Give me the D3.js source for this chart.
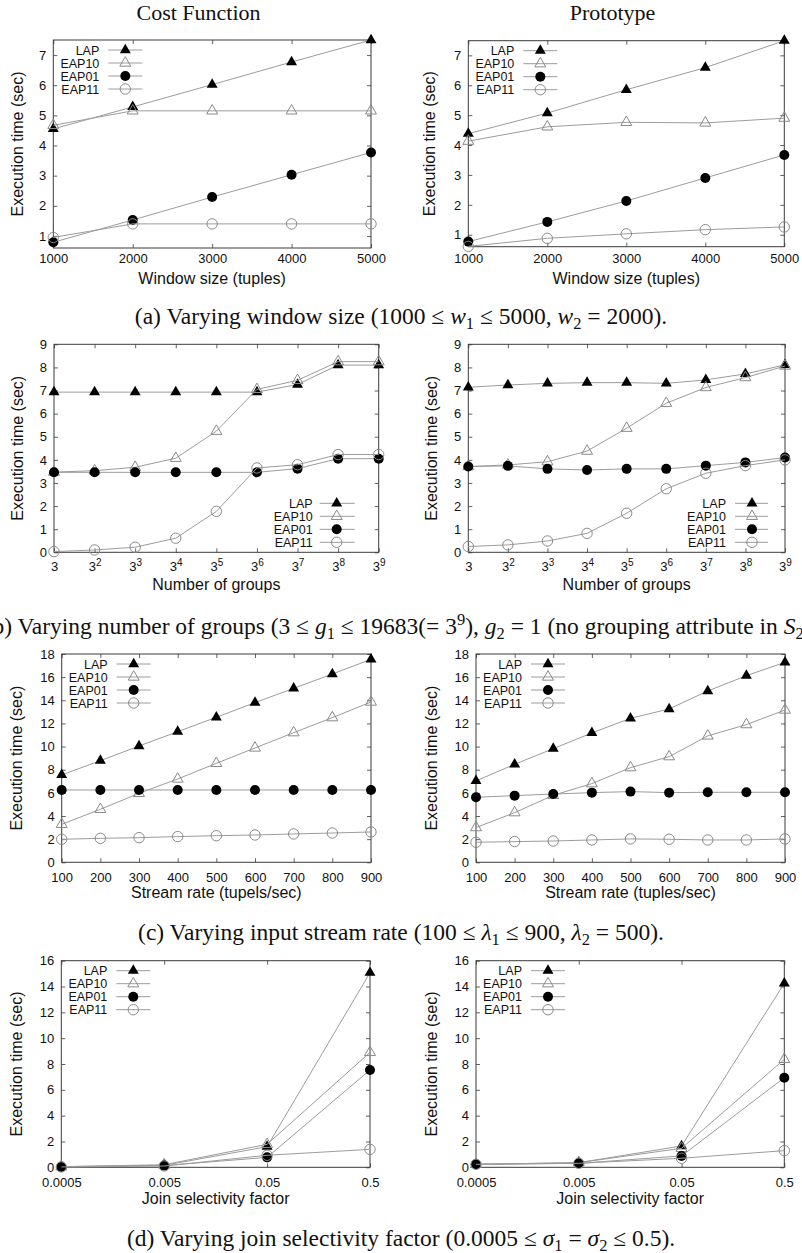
<!DOCTYPE html>
<html>
<head>
<meta charset="utf-8">
<script src="https://cdn.jsdelivr.net/npm/d3@7"></script>
<style>
  body { margin: 0; background: #fff; }
  svg { display: block; }
</style>
</head>
<body>
<svg id="fig" width="802" height="1253"></svg>
<script>
// ---- data -------------------------------------------------------------
const seriesNames = ["LAP", "EAP10", "EAP01", "EAP11"];

const windowSizes   = [1000, 2000, 3000, 4000, 5000];
const groupCounts   = [3, 9, 27, 81, 243, 729, 2187, 6561, 19683];
const groupExponents = [1, 2, 3, 4, 5, 6, 7, 8, 9];
const streamRates   = [100, 200, 300, 400, 500, 600, 700, 800, 900];
const selectivities = [0.0005, 0.005, 0.05, 0.5];
const selectivityLabels = ["0.0005", "0.005", "0.05", "0.5"];

// execution time (sec); rows follow seriesNames
const costWindow = [
  [4.55, 5.28, 6.02, 6.77, 7.50],
  [4.67, 5.15, 5.15, 5.15, 5.15],
  [0.79, 1.53, 2.29, 3.03, 3.77],
  [0.95, 1.40, 1.40, 1.40, 1.40]
];
const protoWindow = [
  [4.38, 5.07, 5.85, 6.59, 7.49],
  [4.13, 4.61, 4.76, 4.74, 4.90],
  [0.77, 1.43, 2.13, 2.90, 3.67],
  [0.61, 0.88, 1.03, 1.17, 1.26]
];
const costGroups = [
  [6.93, 6.93, 6.93, 6.93, 6.93, 6.93, 7.26, 8.10, 8.10],
  [3.47, 3.53, 3.68, 4.07, 5.24, 7.05, 7.44, 8.25, 8.25],
  [3.46, 3.46, 3.46, 3.46, 3.46, 3.46, 3.62, 4.05, 4.05],
  [0.03, 0.10, 0.22, 0.61, 1.77, 3.65, 3.79, 4.23, 4.23]
];
const protoGroups = [
  [7.14, 7.24, 7.31, 7.34, 7.34, 7.31, 7.46, 7.72, 8.11],
  [3.71, 3.78, 3.92, 4.38, 5.37, 6.45, 7.13, 7.56, 8.06],
  [3.71, 3.74, 3.61, 3.56, 3.61, 3.61, 3.75, 3.89, 4.10],
  [0.25, 0.32, 0.49, 0.82, 1.69, 2.75, 3.42, 3.75, 4.00]
];
const costRate = [
  [7.55, 8.78, 10.05, 11.29, 12.53, 13.80, 15.03, 16.27, 17.54],
  [3.28, 4.58, 5.96, 7.20, 8.55, 9.88, 11.20, 12.50, 13.85],
  [6.25, 6.25, 6.25, 6.25, 6.25, 6.25, 6.25, 6.25, 6.25],
  [1.99, 2.07, 2.13, 2.22, 2.30, 2.36, 2.45, 2.53, 2.62]
];
const protoRate = [
  [7.03, 8.47, 9.82, 11.18, 12.44, 13.25, 14.80, 16.13, 17.28],
  [3.00, 4.29, 5.79, 6.80, 8.18, 9.13, 10.92, 11.90, 13.16],
  [5.62, 5.76, 5.90, 6.02, 6.11, 6.02, 6.05, 6.05, 6.05],
  [1.73, 1.79, 1.84, 1.93, 2.02, 1.99, 1.93, 1.93, 2.02]
];
const costSel = [
  [0.05, 0.15, 1.60, 15.07],
  [0.05, 0.20, 1.78, 8.90],
  [0.03, 0.13, 0.77, 7.54],
  [0.03, 0.10, 0.93, 1.39]
];
const protoSel = [
  [0.23, 0.36, 1.65, 14.25],
  [0.23, 0.36, 1.47, 8.36],
  [0.23, 0.31, 0.88, 6.94],
  [0.23, 0.31, 0.70, 1.29]
];

const windowYTicks = [1, 2, 3, 4, 5, 6, 7];
const groupYTicks  = [0, 1, 2, 3, 4, 5, 6, 7, 8, 9];
const rateYTicks   = [0, 2, 4, 6, 8, 10, 12, 14, 16, 18];
const selYTicks    = [0, 2, 4, 6, 8, 10, 12, 14, 16];

const yTitle = "Execution time (sec)";
const columnTitles = ["Cost Function", "Prototype"];

// ---- styling -----------------------------------------------------------
const SANS = "'Liberation Sans', Arial, Helvetica, sans-serif";
const SERIF = "'Liberation Serif', 'Times New Roman', serif";
const LINE = "#9c9c9c";
const FRAME = "#3a3a3a";
const TICK_FONT = 13;
const TITLE_FONT = 16;
const KEY_FONT = 12.5;

const legendTopLeft = { ax: "x0", ay: "y0", tx: 46, l0: 55, l1: 89, m: 72, y: 10, dy: 13 };

const panels = [
  { xs: windowSizes, ys: costWindow, type: "lin", xDom: [1000, 5000], xTicks: windowSizes,
    yDom: [0.6, 7.5], yTicks: windowYTicks, xTitle: "Window size (tuples)",
    box: { x0: 53.3, x1: 371, y0: 40, y1: 248 }, ylabX: 17, xPad: 6, xTitleDy: 36, legend: legendTopLeft },
  { xs: windowSizes, ys: protoWindow, type: "lin", xDom: [1000, 5000], xTicks: windowSizes,
    yDom: [0.6, 7.49], yTicks: windowYTicks, xTitle: "Window size (tuples)",
    box: { x0: 468.3, x1: 784.3, y0: 40.7, y1: 246.7 }, ylabX: 429, xPad: 7, xTitleDy: 37, legend: legendTopLeft },
  { xs: groupCounts, ys: costGroups, type: "pow3", xDom: [3, 19683], xTicks: groupCounts,
    yDom: [0, 9], yTicks: groupYTicks, xTitle: "Number of groups",
    box: { x0: 54, x1: 378.7, y0: 344.3, y1: 552.3 }, ylabX: 17, xPad: 9, xTitleDy: 38,
    legend: { ax: "x1", ay: "y1", tx: -66, l0: -59, l1: -24, m: -42, y: -49, dy: 13 } },
  { xs: groupCounts, ys: protoGroups, type: "pow3", xDom: [3, 19683], xTicks: groupCounts,
    yDom: [0, 9], yTicks: groupYTicks, xTitle: "Number of groups",
    box: { x0: 468.3, x1: 785, y0: 344.3, y1: 552.3 }, ylabX: 431.7, xPad: 9, xTitleDy: 38,
    legend: { ax: "x1", ay: "y1", tx: -59, l0: -50, l1: -17, m: -33, y: -49, dy: 13 } },
  { xs: streamRates, ys: costRate, type: "lin", xDom: [100, 900], xTicks: streamRates,
    yDom: [0, 18], yTicks: rateYTicks, xTitle: "Stream rate (tupels/sec)",
    box: { x0: 61.7, x1: 371, y0: 654, y1: 862.3 }, ylabX: 16.7, xPad: 10, xTitleDy: 36, legend: legendTopLeft },
  { xs: streamRates, ys: protoRate, type: "lin", xDom: [100, 900], xTicks: streamRates,
    yDom: [0, 18], yTicks: rateYTicks, xTitle: "Stream rate (tuples/sec)",
    box: { x0: 476, x1: 785, y0: 654, y1: 862.3 }, ylabX: 431.7, xPad: 10, xTitleDy: 36, legend: legendTopLeft },
  { xs: selectivities, ys: costSel, type: "log", xDom: [0.0005, 0.5], xTicks: selectivities,
    yDom: [0, 16], yTicks: selYTicks, xTitle: "Join selectivity factor",
    box: { x0: 61.3, x1: 370, y0: 960.7, y1: 1167.3 }, ylabX: 16.7, xPad: 10, xTitleDy: 37, legend: legendTopLeft },
  { xs: selectivities, ys: protoSel, type: "log", xDom: [0.0005, 0.5], xTicks: selectivities,
    yDom: [0, 16], yTicks: selYTicks, xTitle: "Join selectivity factor",
    box: { x0: 476, x1: 784.3, y0: 960.7, y1: 1167.3 }, ylabX: 431.7, xPad: 10, xTitleDy: 37, legend: legendTopLeft }
];

const svg = d3.select("#fig");

// ---- point markers ------------------------------------------------------
const triPath = d3.symbol(d3.symbolTriangle, 52)();
function drawMarker(g, idx, x, y) {
  if (idx === 0) {
    g.append("path").attr("d", triPath).attr("transform", `translate(${x},${y})`).attr("fill", "#000");
  } else if (idx === 1) {
    g.append("path").attr("d", triPath).attr("transform", `translate(${x},${y})`)
      .attr("fill", "none").attr("stroke", "#8a8a8a").attr("stroke-width", 1);
  } else if (idx === 2) {
    g.append("circle").attr("cx", x).attr("cy", y).attr("r", 5).attr("fill", "#000");
  } else {
    g.append("circle").attr("cx", x).attr("cy", y).attr("r", 5.2)
      .attr("fill", "none").attr("stroke", "#8a8a8a").attr("stroke-width", 1);
  }
}

// ---- one panel ----------------------------------------------------------
function drawPanel(p) {
  const b = p.box;
  const g = svg.append("g");

  const x = p.type === "lin"
    ? d3.scaleLinear().domain(p.xDom).range([b.x0, b.x1])
    : d3.scaleLog().base(p.type === "pow3" ? 3 : 10).domain(p.xDom).range([b.x0, b.x1]);
  const y = d3.scaleLinear().domain(p.yDom).range([b.y1, b.y0]);

  // axes with inward ticks, mirrored on top/right
  const fmtX = p.type === "log"
    ? (d => selectivityLabels[selectivities.indexOf(d)])
    : (p.type === "pow3" ? (() => "3") : d3.format("d"));

  const xb = g.append("g").attr("transform", `translate(0,${b.y1})`)
    .call(d3.axisBottom(x).tickValues(p.xTicks).tickFormat(fmtX).tickSizeInner(-4).tickSizeOuter(0).tickPadding(p.xPad));
  g.append("g").attr("transform", `translate(${b.x0},0)`)
    .call(d3.axisLeft(y).tickValues(p.yTicks).tickFormat(d3.format("d")).tickSizeInner(-4).tickSizeOuter(0).tickPadding(7));
  g.append("g").attr("transform", `translate(0,${b.y0})`)
    .call(d3.axisTop(x).tickValues(p.xTicks).tickFormat("").tickSizeInner(-4).tickSizeOuter(0));
  g.append("g").attr("transform", `translate(${b.x1},0)`)
    .call(d3.axisRight(y).tickValues(p.yTicks).tickFormat("").tickSizeInner(-4).tickSizeOuter(0));

  g.selectAll(".domain").remove();
  g.selectAll(".tick line").attr("stroke", FRAME).attr("stroke-width", 0.8);
  g.selectAll(".tick text").attr("font-family", SANS).attr("font-size", TICK_FONT).attr("fill", "#111");

  if (p.type === "pow3") {
    xb.selectAll(".tick text").each(function (d) {
      const t = d3.select(this);
      const e = groupExponents[p.xTicks.indexOf(d)];
      t.text("3");
      if (e > 1) {
        t.append("tspan").attr("dy", "-0.45em").attr("font-size", 10).text(String(e));
      }
    });
  }

  g.append("rect").attr("x", b.x0).attr("y", b.y0)
    .attr("width", b.x1 - b.x0).attr("height", b.y1 - b.y0)
    .attr("fill", "none").attr("stroke", FRAME).attr("stroke-width", 1);

  // axis titles
  g.append("text").attr("x", (b.x0 + b.x1) / 2).attr("y", b.y1 + p.xTitleDy)
    .attr("text-anchor", "middle").attr("font-family", SANS).attr("font-size", TITLE_FONT)
    .attr("fill", "#111").text(p.xTitle);
  g.append("text")
    .attr("transform", `translate(${p.ylabX},${(b.y0 + b.y1) / 2}) rotate(-90)`)
    .attr("text-anchor", "middle").attr("dominant-baseline", "central")
    .attr("font-family", SANS).attr("font-size", TITLE_FONT).attr("fill", "#111").text(yTitle);

  // series
  const line = d3.line().x(d => x(d[0])).y(d => y(d[1]));
  p.ys.forEach((vals, si) => {
    const pts = p.xs.map((xv, i) => [xv, vals[i]]);
    g.append("path").attr("d", line(pts)).attr("fill", "none")
      .attr("stroke", LINE).attr("stroke-width", 1);
    pts.forEach(pt => drawMarker(g, si, x(pt[0]), y(pt[1])));
  });

  // key
  const L = p.legend;
  const ax = b[L.ax], ay = b[L.ay];
  seriesNames.forEach((name, si) => {
    const yy = ay + L.y + si * L.dy;
    g.append("text").attr("x", ax + L.tx).attr("y", yy).attr("dy", "0.36em")
      .attr("text-anchor", "end").attr("font-family", SANS).attr("font-size", KEY_FONT)
      .attr("fill", "#111").text(name);
    g.append("line").attr("x1", ax + L.l0).attr("x2", ax + L.l1).attr("y1", yy).attr("y2", yy)
      .attr("stroke", LINE).attr("stroke-width", 1);
    drawMarker(g, si, ax + L.m, yy);
  });
}

panels.forEach(drawPanel);

// ---- column headings ------------------------------------------------------
[198.5, 612.5].forEach((cx, i) => {
  svg.append("text").attr("x", cx).attr("y", 20).attr("text-anchor", "middle")
    .attr("font-family", SERIF).attr("font-size", 22).attr("fill", "#111").text(columnTitles[i]);
});

// ---- captions with inline math ----------------------------------------------
// part kinds: plain text, i = italic, sub = subscript, sup = superscript
const captions = [
  { y: 324, parts: [["(a) Varying window size (1000 ≤ "], ["w", "i"], ["1", "sub"], [" ≤ 5000, "],
                    ["w", "i"], ["2", "sub"], [" = 2000)."]] },
  { y: 634, parts: [["(b) Varying number of groups (3 ≤ "], ["g", "i"], ["1", "sub"], [" ≤ 19683(= 3"],
                    ["9", "sup"], ["), "], ["g", "i"], ["2", "sub"], [" = 1 (no grouping attribute in "],
                    ["S", "i"], ["2", "sub"], [")."]] },
  { y: 940, parts: [["(c) Varying input stream rate (100 ≤ "], ["λ", "i"], ["1", "sub"], [" ≤ 900, "],
                    ["λ", "i"], ["2", "sub"], [" = 500)."]] },
  { y: 1246, parts: [["(d) Varying join selectivity factor (0.0005 ≤ "], ["σ", "i"], ["1", "sub"], [" = "],
                     ["σ", "i"], ["2", "sub"], [" ≤ 0.5)."]] }
];

captions.forEach(c => {
  const t = svg.append("text").attr("x", 401).attr("y", c.y).attr("text-anchor", "middle")
    .attr("font-family", SERIF).attr("font-size", 23.5).attr("fill", "#111");
  let shift = 0;
  c.parts.forEach(([s, kind]) => {
    const sp = t.append("tspan").text(s);
    let target = 0;
    if (kind === "sub") { target = 4.5; sp.attr("font-size", 16.5); }
    if (kind === "sup") { target = -9; sp.attr("font-size", 16.5); }
    if (kind === "i") sp.attr("font-style", "italic");
    if (target !== shift) { sp.attr("dy", target - shift); shift = target; }
  });
});
</script>
</body>
</html>
